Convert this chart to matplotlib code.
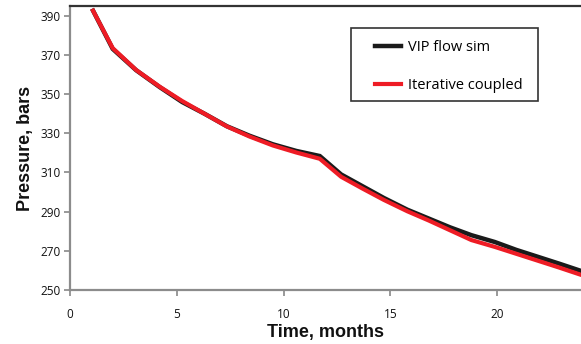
import matplotlib
matplotlib.use("Agg")
import matplotlib.pyplot as plt
from matplotlib.patches import Rectangle

# Time axis (months) and pressure series (bars)
time_months = [1.08, 2.0, 3.1, 4.2, 5.25, 6.3, 7.35, 8.4, 9.5, 10.6, 11.7, 12.7,
               13.7, 14.7, 15.8, 16.8, 17.8, 18.8, 19.9, 20.9, 21.9, 22.9, 24.0]
vip_flow_sim = [392.6, 373.1, 362.2, 353.6, 346.0, 340.0, 333.6, 328.8, 324.4,
                321.0, 318.4, 309.0, 303.0, 297.0, 291.0, 286.5, 282.0, 278.0,
                274.5, 270.5, 267.0, 263.5, 259.5]
iterative_coupled = [392.6, 373.5, 362.3, 353.8, 346.5, 340.0, 333.5, 328.4, 323.8,
                     320.2, 317.0, 307.8, 301.8, 296.0, 290.2, 285.5, 280.5, 275.5,
                     272.0, 268.5, 265.0, 261.5, 257.5]
series_labels = ["VIP flow sim", "Iterative coupled"]
x_ticks = [0, 5, 10, 15, 20]
y_ticks = [250, 270, 290, 310, 330, 350, 370, 390]

W, H = 581, 344
fig = plt.figure(figsize=(W / 100, H / 100), dpi=100)
ax = fig.add_axes([70 / W, 54 / H, 511 / W, 284 / H])

l1, = ax.plot(time_months, vip_flow_sim, color="#1a1a1a", lw=3.2,
              solid_joinstyle="miter", label=series_labels[0], zorder=3)
l2, = ax.plot(time_months, iterative_coupled, color="#ee1c25", lw=3.0,
              label=series_labels[1], zorder=4)

ax.set_xlim(0, 511 / 21.35)
ax.set_ylim(250, 395)
ax.set_xticks(x_ticks)
ax.set_yticks(y_ticks)

tick_font = dict(family="Open Sans", size=8.5)
ax.set_xticklabels([str(v) for v in x_ticks], **tick_font, color="#111111")
ax.set_yticklabels([str(v) for v in y_ticks], **tick_font, color="#111111")
ax.tick_params(axis="both", colors="#888888", length=4, width=1.2, labelcolor="#111111")
ax.tick_params(axis="x", pad=9)
ax.tick_params(axis="y", pad=3)

ax.spines["right"].set_visible(False)
ax.spines["top"].set_color("#333333")
ax.spines["top"].set_linewidth(1.6)
for s in ("left", "bottom"):
    ax.spines[s].set_color("#8c8c8c")
    ax.spines[s].set_linewidth(1.6)

label_font = dict(family="Liberation Sans", size=13, weight="bold", color="#111111")
ax.set_xlabel("Time, months", labelpad=2, **label_font)
ax.set_ylabel("Pressure, bars", labelpad=4, **label_font)

# Legend box
ax.add_patch(Rectangle(((351 - 70) / 511, (290 - 101) / 284), 187 / 511, 73 / 284,
                       transform=ax.transAxes, fill=False, edgecolor="#333333",
                       lw=1.2, zorder=5))
ax.legend(handles=[l1, l2], loc="upper left",
          bbox_to_anchor=((375 - 70) / 511, (290 - 40) / 284),
          frameon=False, borderpad=0, borderaxespad=0,
          prop=dict(family="Open Sans", size=10.5),
          handlelength=1.8, handletextpad=0.45, labelspacing=1.6)

fig.savefig("out.png", dpi=100)
